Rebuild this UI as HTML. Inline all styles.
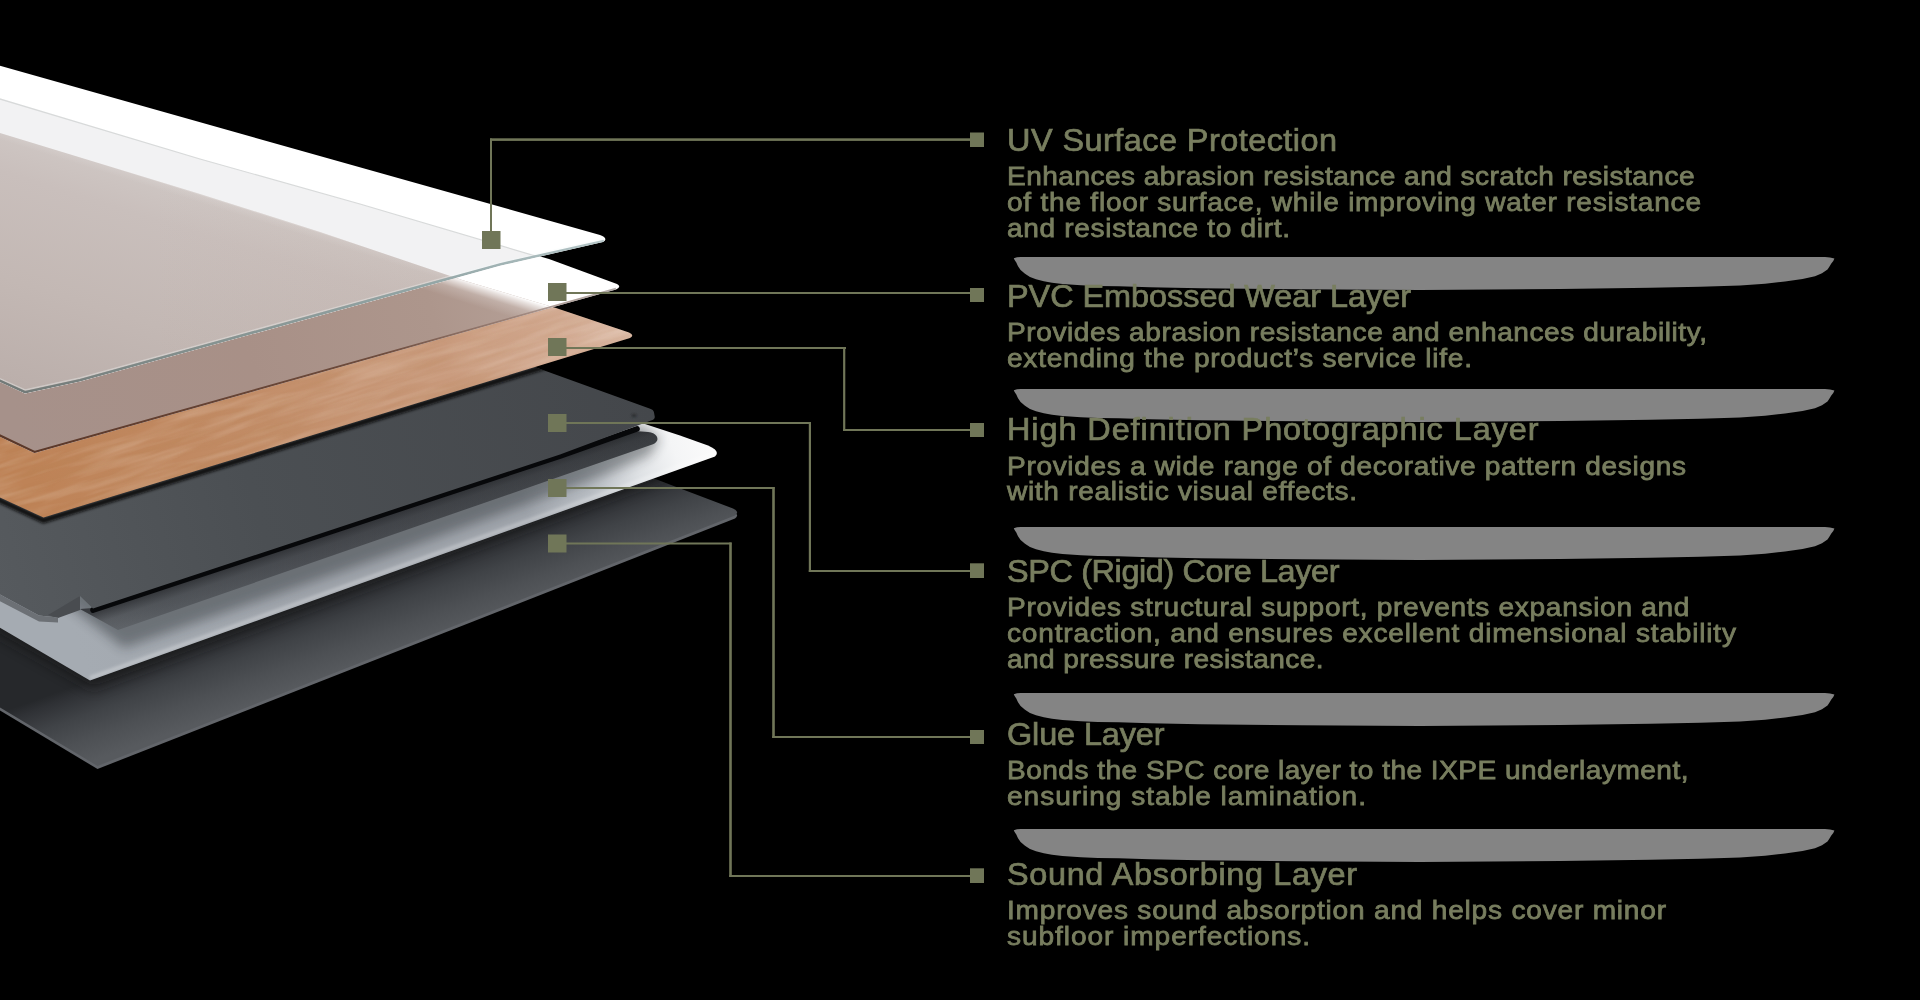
<!DOCTYPE html>
<html>
<head>
<meta charset="utf-8">
<title>SPC Flooring Layers</title>
<style>
html,body{margin:0;padding:0;background:#000;}
body{width:1920px;height:1000px;position:relative;overflow:hidden;font-family:"Liberation Sans",sans-serif;}
svg{position:absolute;left:0;top:0;}
.t{position:absolute;left:1006.5px;white-space:nowrap;color:#787e5f;transform-origin:0 0;}
.h{left:1007.3px;font-size:30.6px;line-height:32px;font-weight:400;-webkit-text-stroke:0.7px #787e5f;transform:scaleX(1.06);}
.b{font-size:26px;line-height:26px;font-weight:400;-webkit-text-stroke:0.78px #787e5f;transform:scaleX(1.08);}
</style>
</head>
<body>
<svg width="1920" height="1000" viewBox="0 0 1920 1000">
<defs>
  <filter id="blur6" x="-10%" y="-10%" width="120%" height="120%"><feGaussianBlur stdDeviation="6"/></filter>
  <filter id="blur4" x="-10%" y="-10%" width="120%" height="120%"><feGaussianBlur stdDeviation="4"/></filter>
  <filter id="blur1" x="-50%" y="-50%" width="200%" height="200%"><feGaussianBlur stdDeviation="0.8"/></filter>
  <filter id="blur2" x="-10%" y="-10%" width="120%" height="120%"><feGaussianBlur stdDeviation="1.5"/></filter>
  <filter id="grain" x="0" y="0" width="100%" height="100%">
    <feTurbulence type="fractalNoise" baseFrequency="0.012 0.11" numOctaves="3" seed="7" result="n"/>
    <feColorMatrix type="matrix" values="0 0 0 0 1  0 0 0 0 0.93  0 0 0 0 0.85  1.6 0 0 0 -0.62"/>
  </filter>
  <filter id="grainD" x="0" y="0" width="100%" height="100%">
    <feTurbulence type="fractalNoise" baseFrequency="0.01 0.16" numOctaves="2" seed="23" result="n"/>
    <feColorMatrix type="matrix" values="0 0 0 0 0.45  0 0 0 0 0.22  0 0 0 0 0.08  0 1.6 0 0 -0.62"/>
  </filter>

  <clipPath id="cSound"><path d="M-10,298 L650,477 L733,508.5 Q740,512 735,515.5 L97.5,766 L-10,701.5 Z"/></clipPath>
  <clipPath id="cGlue"><path d="M-10,222 L635,420.7 L680,435.5 L708,445.5 Q721,451 715,456.5 L90,680.5 L-10,622 Z"/></clipPath>
  <clipPath id="cCore"><path d="M-10,164 L536,367.5 L649.5,408.6 Q653.6,409.8 654,412.5 L654.8,417 Q654.6,419.6 651,420.6 L560,454.5 L240,560 L93,608.5 L80,596 L58,617.5 L39,615.5 L-10,589 Z"/></clipPath>
  <clipPath id="cWood"><path d="M-10,130 L320,230 L462,280 L556,308 L629,332.5 Q635,335 630,338 L43.5,517.5 L-10,493 Z"/></clipPath>
  <clipPath id="cWear"><path d="M-10,96 L549,259 L617,284 Q622,286.5 616,289.5 L34.5,453 L-10,432 Z"/></clipPath>
  <clipPath id="cGlass"><path d="M-10,63 L600,235 Q609,238.5 603,242 L500,265.8 L340,310 L80,381.5 L25,393.5 L-10,377.5 Z"/></clipPath>

  <linearGradient id="gSound" gradientUnits="userSpaceOnUse" x1="240" y1="626.6" x2="266" y2="699">
    <stop offset="0" stop-color="#26282b"/>
    <stop offset="0.12" stop-color="#2f3135"/>
    <stop offset="0.4" stop-color="#404347"/>
    <stop offset="0.7" stop-color="#4d5054"/>
    <stop offset="1" stop-color="#575a5e"/>
  </linearGradient>
  <linearGradient id="gGlue" gradientUnits="userSpaceOnUse" x1="90" y1="680" x2="717" y2="452">
    <stop offset="0" stop-color="#a5abb2"/>
    <stop offset="0.35" stop-color="#a0a5ac"/>
    <stop offset="0.7" stop-color="#a0a5ac"/>
    <stop offset="0.8" stop-color="#b8bdc3"/>
    <stop offset="0.88" stop-color="#dfe2e5"/>
    <stop offset="0.94" stop-color="#f4f5f6"/>
    <stop offset="1" stop-color="#fbfbfb"/>
  </linearGradient>
  <linearGradient id="gCore" gradientUnits="userSpaceOnUse" x1="0" y1="600" x2="654" y2="414">
    <stop offset="0" stop-color="#565a5e"/>
    <stop offset="0.4" stop-color="#4b4f53"/>
    <stop offset="1" stop-color="#44474b"/>
  </linearGradient>
  <linearGradient id="gLip" gradientUnits="userSpaceOnUse" x1="93" y1="615" x2="655" y2="435">
    <stop offset="0" stop-color="#62666b"/>
    <stop offset="0.12" stop-color="#565a5f"/>
    <stop offset="0.4" stop-color="#4a4d52"/>
    <stop offset="1" stop-color="#3c3f43"/>
  </linearGradient>
  <linearGradient id="gLipSh" gradientUnits="userSpaceOnUse" x1="380" y1="515" x2="387.5" y2="537">
    <stop offset="0" stop-color="#101114" stop-opacity="0.5"/>
    <stop offset="0.5" stop-color="#101114" stop-opacity="0.1"/>
    <stop offset="1" stop-color="#101114" stop-opacity="0"/>
  </linearGradient>
  <linearGradient id="gWood" gradientUnits="userSpaceOnUse" x1="43" y1="517" x2="632" y2="335">
    <stop offset="0" stop-color="#be8357"/>
    <stop offset="0.35" stop-color="#c28c66"/>
    <stop offset="0.7" stop-color="#c99a7c"/>
    <stop offset="0.9" stop-color="#d3ab93"/>
    <stop offset="1" stop-color="#dbbaa6"/>
  </linearGradient>
  <linearGradient id="gWear" gradientUnits="userSpaceOnUse" x1="20" y1="440" x2="540" y2="300">
    <stop offset="0" stop-color="#a6918a"/>
    <stop offset="0.45" stop-color="#a89087"/>
    <stop offset="0.8" stop-color="#ad968c"/>
    <stop offset="1" stop-color="#b5a097"/>
  </linearGradient>
  <linearGradient id="gGlassWood" gradientUnits="userSpaceOnUse" x1="300" y1="224" x2="216" y2="491">
    <stop offset="0" stop-color="#cec6c3"/>
    <stop offset="0.14" stop-color="#c9bfbc"/>
    <stop offset="0.5" stop-color="#c3b8b4"/>
    <stop offset="0.85" stop-color="#bbafab"/>
    <stop offset="1" stop-color="#b8aba7"/>
  </linearGradient>
  <linearGradient id="gGlassEdge" gradientUnits="userSpaceOnUse" x1="25" y1="0" x2="604" y2="0">
    <stop offset="0" stop-color="#727a78"/>
    <stop offset="0.3" stop-color="#84918f"/>
    <stop offset="0.7" stop-color="#93a6a6"/>
    <stop offset="1" stop-color="#b5c6c8"/>
  </linearGradient>
  <!-- white fade from wood top edge (normal direction) -->
  <linearGradient id="gFadeGlass" gradientUnits="userSpaceOnUse" x1="300" y1="224" x2="294" y2="243">
    <stop offset="0" stop-color="#fff" stop-opacity="0.5"/>
    <stop offset="0.15" stop-color="#fff" stop-opacity="0.1"/>
    <stop offset="0.5" stop-color="#fff" stop-opacity="0"/>
    <stop offset="1" stop-color="#fff" stop-opacity="0"/>
  </linearGradient>
  <linearGradient id="gGlassWarm" gradientUnits="userSpaceOnUse" x1="150" y1="0" x2="460" y2="0">
    <stop offset="0" stop-color="#a5806c" stop-opacity="0"/>
    <stop offset="1" stop-color="#a5806c" stop-opacity="0.08"/>
  </linearGradient>
  <linearGradient id="gFadeWear" gradientUnits="userSpaceOnUse" x1="510" y1="294" x2="499" y2="329">
    <stop offset="0" stop-color="#fff" stop-opacity="1"/>
    <stop offset="0.1" stop-color="#fff" stop-opacity="0.7"/>
    <stop offset="0.3" stop-color="#fff" stop-opacity="0.2"/>
    <stop offset="0.6" stop-color="#fff" stop-opacity="0"/>
    <stop offset="1" stop-color="#fff" stop-opacity="0"/>
  </linearGradient>
  <linearGradient id="gWearEdge" gradientUnits="userSpaceOnUse" x1="34" y1="452" x2="617" y2="288">
    <stop offset="0" stop-color="#5b3829"/>
    <stop offset="0.6" stop-color="#6e4c3d"/>
    <stop offset="0.85" stop-color="#9a8178" stop-opacity="0.8"/>
    <stop offset="1" stop-color="#a9a09d" stop-opacity="0.9"/>
  </linearGradient>
</defs>

<!-- 6 sound absorbing layer -->
<g id="L6">
  <path d="M-10,301 L650,480 L733,511.5 Q740,515 735,518.5 L97.5,769 L-10,704.5 Z" fill="#62656a"/>
  <path d="M-10,298 L650,477 L733,508.5 Q740,512 735,515.5 L97.5,766 L-10,701.5 Z" fill="url(#gSound)"/>
  <g clip-path="url(#cSound)">
    <path d="M-10,232 L637,436 L717,460 L93,690 L-10,632 Z" fill="#141518" opacity="0.55" filter="url(#blur6)"/>
  </g>
</g>

<!-- 5 glue layer -->
<g id="L5">
  <path d="M-10,222 L635,420.7 L680,435.5 L708,445.5 Q721,451 715,456.5 L90,680.5 L-10,622 Z" fill="url(#gGlue)"/>
  <g clip-path="url(#cGlue)">
    <path d="M-10,560 L70,606 L124,648 L400,551 L600,477 L650,455 L660,438 L640,426 Z" fill="#23262b" opacity="0.42" filter="url(#blur6)"/>
    <path d="M90,678 L714,454" stroke="#ffffff" stroke-opacity="0.3" stroke-width="3.5" fill="none" filter="url(#blur2)"/>
  </g>
</g>

<!-- 4 SPC core -->
<g id="L4">
  <path d="M80,609 L118,630 L240,587.7 L560,476.6 L653,444.3 Q659.5,441 656.5,436 Q654,432.5 648,432 L633,431 L560,455 L240,560 L93,608 Z" fill="url(#gLip)"/>
  <path d="M80,609 L118,630 L240,587.7 L560,476.6 L653,444.3 Q659.5,441 656.5,436 Q654,432.5 648,432 L633,431 L560,455 L240,560 L93,608 Z" fill="url(#gLipSh)"/>
  <path d="M93,610 L240,561.6 L560,456 L637,428.8" stroke="#07080a" stroke-width="5.6" fill="none" stroke-linejoin="round" stroke-linecap="round"/>
  <path d="M-10,164 L536,367.5 L649.5,408.6 Q653.6,409.8 654,412.5 L654.8,417 Q654.6,419.6 651,420.6 L560,454.5 L240,560 L93,608.5 L80,596 L58,617.5 L39,615.5 L-10,589 Z" fill="url(#gCore)"/>
  <path d="M48,615 L80,596 L80,610 L58,618 Z" fill="#494c50"/>
  <path d="M-10,589 L39,615.5 L58,617.5 L58,622.5 L39,621.5 L-10,596 Z" fill="#6c7075"/>
  <ellipse cx="634" cy="415.6" rx="2.6" ry="1.7" fill="#26282b" opacity="0.8" filter="url(#blur1)"/>
  <!-- shadow of wood on core -->
  <g clip-path="url(#cCore)">
    <path d="M-10,496 L43.5,520.5 L632,340" stroke="#0c0c0d" stroke-width="5.5" fill="none" opacity="0.95" filter="url(#blur2)"/>
  </g>
</g>

<!-- 3 wood -->
<g id="L3">
  <path d="M-10,130 L320,230 L462,280 L556,308 L629,332.5 Q635,335 630,338 L43.5,517.5 L-10,493 Z" fill="url(#gWood)"/>
  <g clip-path="url(#cWood)">
    <g transform="rotate(-17.2 300 400)">
      <rect x="-150" y="150" width="900" height="500" filter="url(#grain)" opacity="0.28"/>
      <rect x="-150" y="150" width="900" height="500" filter="url(#grainD)" opacity="0.2"/>
    </g>
  </g>
</g>

<!-- 2 wear layer -->
<g id="L2">
  <path d="M-10,96 L549,259 L617,284 Q622,286.5 616,289.5 L34.5,453 L-10,432 Z" fill="#ffffff"/>
  <g clip-path="url(#cWear)">
    <path d="M-10,130 L320,230 L462,280 L556,308 L640,336 L34.5,470 L-10,450 Z" fill="url(#gWear)"/>
    <path d="M-10,130 L320,230 L462,280 L556,308 L640,336 L34.5,470 L-10,450 Z" fill="url(#gFadeWear)"/>
    <path d="M-10,431 L34.5,452.2 L616,289" stroke="url(#gWearEdge)" stroke-width="2.6" fill="none"/>
  </g>
</g>

<!-- 1 glass -->
<g id="L1">
  <path d="M-10,63 L600,235 Q609,238.5 603,242 L500,265.8 L340,310 L80,381.5 L25,393.5 L-10,377.5 Z" fill="#ffffff"/>
  <g clip-path="url(#cGlass)">
    <path d="M-10,96 L200,159 L360,204 L549,260 L617,284 L34.5,453 L-10,432 Z" fill="#f2f2f3"/>
    <path d="M-10,130 L200,194 L320,232 L462,280 L520,300 L25,420 L-10,400 Z" fill="url(#gGlassWood)"/>
    <path d="M-10,130 L200,194 L320,232 L462,280 L520,300 L25,420 L-10,400 Z" fill="url(#gGlassWarm)"/>
    <path d="M-10,130 L200,194 L320,232 L462,280 L520,300 L25,420 L-10,400 Z" fill="url(#gFadeGlass)"/>
    <path d="M-10,96 L200,159 L360,204 L549,260" stroke="#d4d6d6" stroke-width="1.2" fill="none" opacity="0.9"/>
    <path d="M-10,374.2 L25,390 L80,378 L340,306.4 L500,262.4 L604,238.8" stroke="#f4f8f8" stroke-width="1.4" fill="none" opacity="0.35"/>
    <path d="M-10,376.4 L25,392.2 L80,380.2 L340,308.6 L500,264.5 L604,241" stroke="url(#gGlassEdge)" stroke-width="2.7" fill="none" stroke-linejoin="round"/>
  </g>
</g>

<!-- connectors -->
<g id="conn" fill="#707658" stroke="none">
  <rect x="482" y="231" width="18.5" height="18"/>
  <rect x="490" y="138.5" width="2" height="93"/>
  <rect x="490" y="138.3" width="481" height="2.6"/>
  <rect x="970" y="132.5" width="14" height="14.5"/>

  <rect x="548" y="283" width="18.5" height="18"/>
  <rect x="566" y="292" width="405" height="2"/>
  <rect x="970" y="288" width="14" height="14"/>

  <rect x="548" y="338" width="18.5" height="18"/>
  <rect x="566" y="347" width="280" height="2"/>
  <rect x="843.1" y="347" width="2.2" height="84"/>
  <rect x="843.1" y="429" width="127.4" height="2"/>
  <rect x="970" y="423" width="14" height="14"/>

  <rect x="548" y="414" width="18.5" height="18"/>
  <rect x="566" y="422" width="245" height="2"/>
  <rect x="808.8" y="422" width="2.2" height="150"/>
  <rect x="808.8" y="570" width="162" height="2"/>
  <rect x="970" y="563.3" width="14" height="14.7"/>

  <rect x="548" y="479" width="18.5" height="18"/>
  <rect x="566" y="487" width="208.5" height="2"/>
  <rect x="772.2" y="487" width="2.6" height="251"/>
  <rect x="772.2" y="736" width="198.8" height="2"/>
  <rect x="970" y="730" width="14" height="14"/>

  <rect x="548" y="534.5" width="18.5" height="18"/>
  <rect x="566" y="542.5" width="165.5" height="2"/>
  <rect x="729.2" y="542.5" width="2.6" height="334.5"/>
  <rect x="729.2" y="875" width="241.8" height="2"/>
  <rect x="970" y="868.3" width="14" height="14.7"/>
</g>

<!-- gray shadow shapes -->
<g id="shadows" fill="#848484">
  <path d="M1013.8,258.2 L1017,257.2 L1021,256.9 L1825,256.9 L1830,257.4 L1834.4,258.4 L1833.3,261 L1831.3,263.5 L1829.5,266.5 L1827.5,269.4 L1822,273.2 L1815,276.3 L1802.5,278.9 L1785,281.5 L1765,283.7 L1740,285.6 L1700,286.8 L1650,287.7 L1560,289 L1420,290 L1300,289.2 L1200,288.2 L1150,287.2 L1118.8,286.3 L1098,285.9 L1081,285.3 L1062.5,284 L1052,282.8 L1043.8,281.3 L1036,279.3 L1030,276.9 L1025,273.8 L1020.6,270 L1018,266.2 L1016.3,262.5 L1014.6,260 Z"/>
  <path transform="translate(0,132)" d="M1013.8,258.2 L1017,257.2 L1021,256.9 L1825,256.9 L1830,257.4 L1834.4,258.4 L1833.3,261 L1831.3,263.5 L1829.5,266.5 L1827.5,269.4 L1822,273.2 L1815,276.3 L1802.5,278.9 L1785,281.5 L1765,283.7 L1740,285.6 L1700,286.8 L1650,287.7 L1560,289 L1420,290 L1300,289.2 L1200,288.2 L1150,287.2 L1118.8,286.3 L1098,285.9 L1081,285.3 L1062.5,284 L1052,282.8 L1043.8,281.3 L1036,279.3 L1030,276.9 L1025,273.8 L1020.6,270 L1018,266.2 L1016.3,262.5 L1014.6,260 Z"/>
  <path transform="translate(0,270)" d="M1013.8,258.2 L1017,257.2 L1021,256.9 L1825,256.9 L1830,257.4 L1834.4,258.4 L1833.3,261 L1831.3,263.5 L1829.5,266.5 L1827.5,269.4 L1822,273.2 L1815,276.3 L1802.5,278.9 L1785,281.5 L1765,283.7 L1740,285.6 L1700,286.8 L1650,287.7 L1560,289 L1420,290 L1300,289.2 L1200,288.2 L1150,287.2 L1118.8,286.3 L1098,285.9 L1081,285.3 L1062.5,284 L1052,282.8 L1043.8,281.3 L1036,279.3 L1030,276.9 L1025,273.8 L1020.6,270 L1018,266.2 L1016.3,262.5 L1014.6,260 Z"/>
  <path transform="translate(0,436)" d="M1013.8,258.2 L1017,257.2 L1021,256.9 L1825,256.9 L1830,257.4 L1834.4,258.4 L1833.3,261 L1831.3,263.5 L1829.5,266.5 L1827.5,269.4 L1822,273.2 L1815,276.3 L1802.5,278.9 L1785,281.5 L1765,283.7 L1740,285.6 L1700,286.8 L1650,287.7 L1560,289 L1420,290 L1300,289.2 L1200,288.2 L1150,287.2 L1118.8,286.3 L1098,285.9 L1081,285.3 L1062.5,284 L1052,282.8 L1043.8,281.3 L1036,279.3 L1030,276.9 L1025,273.8 L1020.6,270 L1018,266.2 L1016.3,262.5 L1014.6,260 Z"/>
  <path transform="translate(0,572)" d="M1013.8,258.2 L1017,257.2 L1021,256.9 L1825,256.9 L1830,257.4 L1834.4,258.4 L1833.3,261 L1831.3,263.5 L1829.5,266.5 L1827.5,269.4 L1822,273.2 L1815,276.3 L1802.5,278.9 L1785,281.5 L1765,283.7 L1740,285.6 L1700,286.8 L1650,287.7 L1560,289 L1420,290 L1300,289.2 L1200,288.2 L1150,287.2 L1118.8,286.3 L1098,285.9 L1081,285.3 L1062.5,284 L1052,282.8 L1043.8,281.3 L1036,279.3 L1030,276.9 L1025,273.8 L1020.6,270 L1018,266.2 L1016.3,262.5 L1014.6,260 Z"/>
</g>
</svg>

<!--TEXT-->
<div class="t h" style="top:124.10px;letter-spacing:0.432px">UV Surface Protection</div>
<div class="t b" style="top:162.54px;letter-spacing:0.418px">Enhances abrasion resistance and scratch resistance</div>
<div class="t b" style="top:188.64px;letter-spacing:0.700px">of the floor surface, while improving water resistance</div>
<div class="t b" style="top:214.74px;letter-spacing:0.612px">and resistance to dirt.</div>
<div class="t h" style="top:280.40px;letter-spacing:-0.041px">PVC Embossed Wear Layer</div>
<div class="t b" style="top:318.74px;letter-spacing:0.522px">Provides abrasion resistance and enhances durability,</div>
<div class="t b" style="top:344.74px;letter-spacing:0.692px">extending the product’s service life.</div>
<div class="t h" style="top:413.40px;letter-spacing:0.867px">High Definition Photographic Layer</div>
<div class="t b" style="top:452.74px;letter-spacing:0.607px">Provides a wide range of decorative pattern designs</div>
<div class="t b" style="top:478.04px;letter-spacing:0.628px">with realistic visual effects.</div>
<div class="t h" style="top:555.20px;letter-spacing:-0.365px">SPC (Rigid) Core Layer</div>
<div class="t b" style="top:593.54px;letter-spacing:0.643px">Provides structural support, prevents expansion and</div>
<div class="t b" style="top:619.54px;letter-spacing:0.737px">contraction, and ensures excellent dimensional stability</div>
<div class="t b" style="top:645.54px;letter-spacing:0.362px">and pressure resistance.</div>
<div class="t h" style="top:718.10px;letter-spacing:-0.119px">Glue Layer</div>
<div class="t b" style="top:756.74px;letter-spacing:0.431px">Bonds the SPC core layer to the IXPE underlayment,</div>
<div class="t b" style="top:782.74px;letter-spacing:0.889px">ensuring stable lamination.</div>
<div class="t h" style="top:858.10px;letter-spacing:0.606px">Sound Absorbing Layer</div>
<div class="t b" style="top:896.74px;letter-spacing:0.729px">Improves sound absorption and helps cover minor</div>
<div class="t b" style="top:922.74px;letter-spacing:0.863px">subfloor imperfections.</div>
<!--/TEXT-->
</body>
</html>
